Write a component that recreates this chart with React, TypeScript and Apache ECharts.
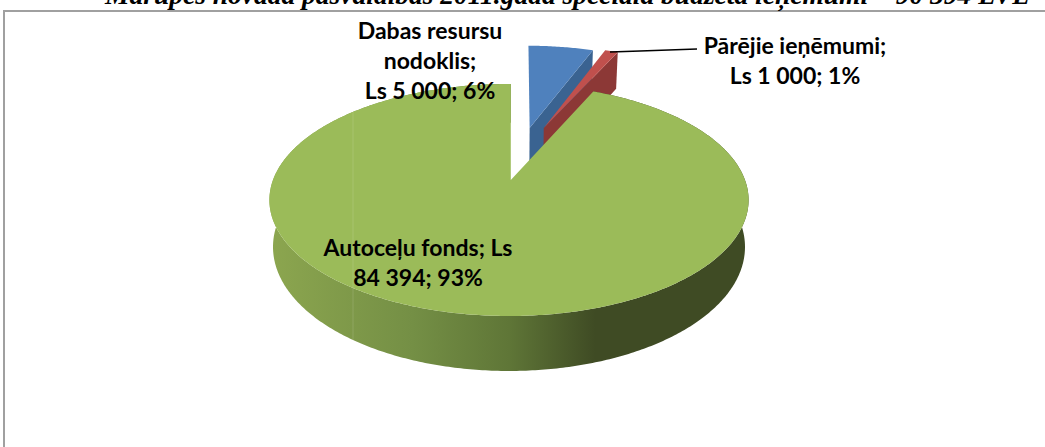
import React, { useEffect, useRef } from "react";
import * as echarts from "echarts";

const titleText = "Mārupes novada pašvaldības 2011.gada speciālā budžeta ieņēmumi – 90 394 LVL";
const categories = ["Dabas resursu nodoklis", "Pārējie ieņēmumi", "Autoceļu fonds"];
const values = [5000, 1000, 84394];
const labelTexts = [
  "Dabas resursu\nnodoklis;\nLs 5 000; 6%",
  "Pārējie ieņēmumi;\nLs 1 000; 1%",
  "Autoceļu fonds; Ls\n84 394; 93%",
];

const topColors = ["#4f81bd", "#c0504d", "#9bbb59"];
const wallColors = ["#3a6391", "#8c3836", "#7f9a47"];
const explode = [[0.095, 0.502], [0.16, 0.502], [0, 0]];
const apexShift = [0, 0, 1.8];
const labelPos = [[430, 60], [795, 60], [418, 262]];

const CX = 509, CY = 180, B = 236, A = 112.55, K = 0.1724;
const ROT = 0.5 * Math.PI / 180;
const total = values.reduce((a, b) => a + b, 0);

function project(u: number, v: number, lower: boolean, off: number[]) {
  const uu = u + off[0], vv = v + off[1];
  const d = 1 + K * vv;
  const x = B * uu / d, y = -A * vv / d;
  if (!lower) return [CX + x, CY + y];
  return [CX + x * 0.985, CY + y + 45.5 / d];
}

function arc(a0: number, a1: number, lower: boolean, off: number[]) {
  const n = Math.max(2, Math.ceil((a1 - a0) * 90));
  const pts: number[][] = [];
  for (let i = 0; i <= n; i++) {
    const a = a0 + (a1 - a0) * i / n;
    pts.push(project(Math.sin(a), Math.cos(a), lower, off));
  }
  return pts;
}

function renderSlice(params: any, api: any) {
  const i = params.dataIndex;
  let sum = 0;
  for (let j = 0; j < i; j++) sum += values[j];
  const a0 = sum / total * Math.PI * 2 + ROT;
  const a1 = (sum + api.value(0)) / total * Math.PI * 2 + ROT;
  const off = explode[i];
  const topArc = arc(a0, a1, false, off);
  const p = project(0, 0, false, off);
  const apex = [p[0] + apexShift[i], p[1]];
  const children: any[] = [];
  if (i === 2) {
    const wall = topArc.concat(arc(a0, a1, true, off).reverse());
    children.push({
      type: "polygon",
      shape: { points: wall },
      style: {
        fill: new echarts.graphic.LinearGradient(0, 0, 1, 0, [
          { offset: 0, color: "#8ca64f" },
          { offset: 0.3, color: "#748f45" },
          { offset: 0.5, color: "#5f7637" },
          { offset: 0.68, color: "#3f4b24" },
          { offset: 1, color: "#3f4b24" },
        ]),
      },
    });
  } else {
    const outer = topArc[topArc.length - 1];
    const outerLow = project(Math.sin(a1), Math.cos(a1), true, off);
    const apexLow = project(0, 0, true, off);
    children.push({
      type: "polygon",
      shape: { points: [apex, outer, outerLow, apexLow] },
      style: { fill: wallColors[i] },
    });
  }
  children.push({
    type: "polygon",
    shape: { points: [apex].concat(topArc) },
    style: { fill: topColors[i] },
  });
  return { type: "group", children };
}

function renderLabel(params: any) {
  const i = params.dataIndex;
  return {
    type: "text",
    x: labelPos[i][0],
    y: labelPos[i][1],
    style: {
      text: labelTexts[i],
      fill: "#000000",
      font: "bold 23px Lato",
      align: "center",
      verticalAlign: "middle",
      lineHeight: 30,
    },
  };
}

export default function App() {
  const ref = useRef<HTMLDivElement>(null);
  useEffect(() => {
    const chart = echarts.init(ref.current!, undefined, { renderer: "svg" });
    chart.setOption({
      animation: false,
      backgroundColor: "#ffffff",
      title: {
        text: titleText,
        left: 105,
        top: -19,
        padding: 0,
        textStyle: {
          fontFamily: "Liberation Serif",
          fontStyle: "italic",
          fontWeight: "bold",
          fontSize: 27.5,
          color: "#000000",
        },
      },
      series: [
        {
          type: "custom",
          coordinateSystem: "none",
          name: "Ieņēmumi",
          data: values.map((v, i) => ({ name: categories[i], value: v })),
          renderItem: renderSlice,
          silent: true,
        },
        {
          type: "custom",
          coordinateSystem: "none",
          z: 5,
          data: labelTexts.map((t) => ({ name: t, value: 0 })),
          renderItem: renderLabel,
          silent: true,
        },
      ],
      graphic: [
        { type: "rect", z: 1, silent: true, shape: { x: 3, y: 10, width: 1042, height: 2 }, style: { fill: "#a0a0a0" } },
        { type: "rect", z: 1, silent: true, shape: { x: 3, y: 10, width: 2, height: 437 }, style: { fill: "#a0a0a0" } },
        { type: "polyline", z: 3, silent: true, shape: { points: [[610, 52], [640, 51], [697, 49]] }, style: { stroke: "#000000", lineWidth: 1.5, fill: "none" } },
        { type: "line", z: 3, silent: true, shape: { x1: 353, y1: 112, x2: 353, y2: 343 }, style: { stroke: "rgba(255,255,255,0.13)", lineWidth: 1 } },
      ],
    });
    return () => chart.dispose();
  }, []);
  return <div ref={ref} style={{ position: "absolute", left: 0, top: 0, width: 1045, height: 447 }} />;
}
